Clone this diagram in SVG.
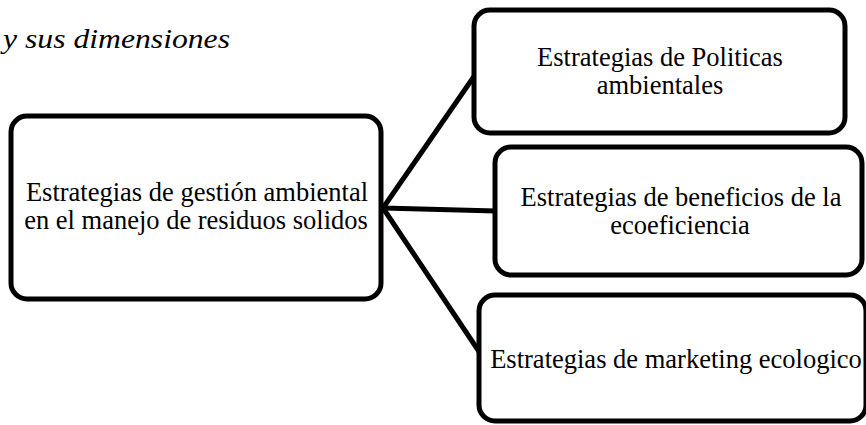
<svg xmlns="http://www.w3.org/2000/svg" width="866" height="425" viewBox="0 0 866 425">
<style>
.box{fill:#fff;stroke:#000;stroke-width:5}
.t{font-family:'Liberation Serif',serif;font-size:26.5px;fill:#000;text-anchor:middle}
.c{stroke:#000;stroke-width:5;fill:none;stroke-linecap:butt}
</style>
<rect width="866" height="425" fill="#fff"/>
<text x="3" y="48" font-family="'Liberation Serif',serif" font-style="italic" font-size="28" textLength="227" lengthAdjust="spacingAndGlyphs">y sus dimensiones</text>
<g id="connectors">
<line class="c" x1="383" y1="208" x2="475" y2="75"/>
<line class="c" x1="383" y1="208" x2="496" y2="211"/>
<line class="c" x1="383" y1="208" x2="480" y2="353"/>
</g>
<g id="node-main">
<rect class="box" x="11" y="116" width="370" height="183" rx="16"/>
<text class="t" x="197" y="201">Estrategias de gestión ambiental</text>
<text class="t" x="196" y="229">en el manejo de residuos solidos</text>
</g>
<g id="node-politicas">
<rect class="box" x="474" y="10" width="371" height="123" rx="16"/>
<text class="t" x="660" y="66">Estrategias de Politicas</text>
<text class="t" x="660" y="94">ambientales</text>
</g>
<g id="node-ecoeficiencia">
<rect class="box" x="495" y="147" width="367" height="128" rx="16"/>
<text class="t" x="681" y="206">Estrategias de beneficios de la</text>
<text class="t" x="680" y="234">ecoeficiencia</text>
</g>
<g id="node-marketing">
<rect class="box" x="479" y="295" width="387" height="126" rx="16"/>
<text class="t" x="676" y="368">Estrategias de marketing ecologico</text>
</g>
</svg>
